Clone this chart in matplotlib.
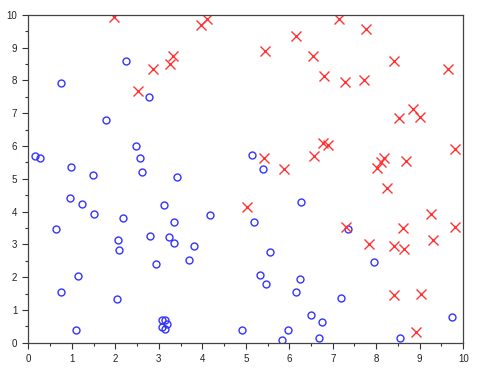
import numpy as np
import matplotlib
matplotlib.use("Agg")
import matplotlib.pyplot as plt

# class A (blue circles)
blue_x = [0.16, 0.28, 0.76, 0.97, 1.49, 1.79, 2.25, 2.48, 2.57, 2.62, 2.77,
          0.95, 1.24, 1.50, 2.18, 0.63, 2.07, 2.09, 2.79, 2.94, 1.15, 0.74, 2.05, 1.10,
          5.14, 5.40, 3.43,
          3.13, 4.17, 3.34, 3.23, 3.34, 3.80, 3.69, 5.18, 5.55, 6.28, 5.33, 5.46, 6.25,
          6.16, 6.51, 3.07, 3.15, 3.18, 3.08, 3.14, 4.92, 5.96, 5.84, 6.68, 6.76,
          7.36, 7.96, 7.20, 9.75, 8.55]
blue_y = [5.69, 5.62, 7.92, 5.37, 5.11, 6.78, 8.58, 6.01, 5.65, 5.22, 7.51,
          4.40, 4.23, 3.94, 3.82, 3.46, 3.13, 2.82, 3.27, 2.40, 2.05, 1.54, 1.33, 0.38,
          5.74, 5.29, 5.05,
          4.20, 3.91, 3.68, 3.24, 3.04, 2.96, 2.52, 3.68, 2.76, 4.29, 2.08, 1.80, 1.94,
          1.54, 0.84, 0.71, 0.69, 0.57, 0.49, 0.42, 0.38, 0.38, 0.09, 0.16, 0.64,
          3.46, 2.46, 1.38, 0.78, 0.16]

# class B (red crosses)
red_x = [1.96, 2.53, 2.87,
         3.96, 4.11, 3.33, 3.26, 5.44, 6.16, 6.55, 5.43, 5.88, 6.57,
         5.04,
         7.15, 7.77, 6.80, 8.40, 7.29, 7.72, 9.65, 8.84, 9.00, 8.53, 6.78, 6.90, 9.81,
         8.18, 8.10, 8.02, 8.68,
         8.24, 9.27, 7.30, 8.62, 9.81, 9.30, 7.84, 8.40, 8.64, 8.42, 9.03, 8.92]
red_y = [9.94, 7.69, 8.34,
         9.70, 9.87, 8.76, 8.50, 8.90, 9.37, 8.76, 5.62, 5.31, 5.69,
         4.14,
         9.86, 9.56, 8.12, 8.58, 7.95, 8.01, 8.34, 7.12, 6.87, 6.85, 6.10, 6.03, 5.91,
         5.63, 5.52, 5.34, 5.53,
         4.71, 3.94, 3.54, 3.49, 3.52, 3.13, 3.01, 2.96, 2.85, 1.45, 1.48, 0.33]

plt.rcParams["font.family"] = ["Liberation Sans", "DejaVu Sans"]

fig = plt.figure(figsize=(4.8, 3.71), dpi=100)
ax = fig.add_axes([0.059, 0.076, 0.906, 0.884])

ax.plot(blue_x, blue_y, "o", ls="none", ms=5, mfc="none", mec="#3333ff", mew=1.0)
ax.plot(red_x, red_y, "x", ls="none", ms=7, mec="#ff3333", mew=1.0)

ax.set_xlim(0, 10)
ax.set_ylim(0, 10)
ax.set_xticks(np.arange(0, 11, 1))
ax.set_yticks(np.arange(0, 11, 1))
ax.set_xticks(np.arange(0.5, 10, 1), minor=True)
ax.set_yticks(np.arange(0.5, 10, 1), minor=True)
ax.tick_params(which="major", direction="out", length=4, width=0.8, colors="#333333",
               labelsize=7, labelcolor="#222222", pad=4)
ax.tick_params(which="minor", direction="out", length=2, width=0.8, colors="#333333")
for s in ax.spines.values():
    s.set_color("#444444")
    s.set_linewidth(0.9)

fig.savefig("out.png", dpi=100)
